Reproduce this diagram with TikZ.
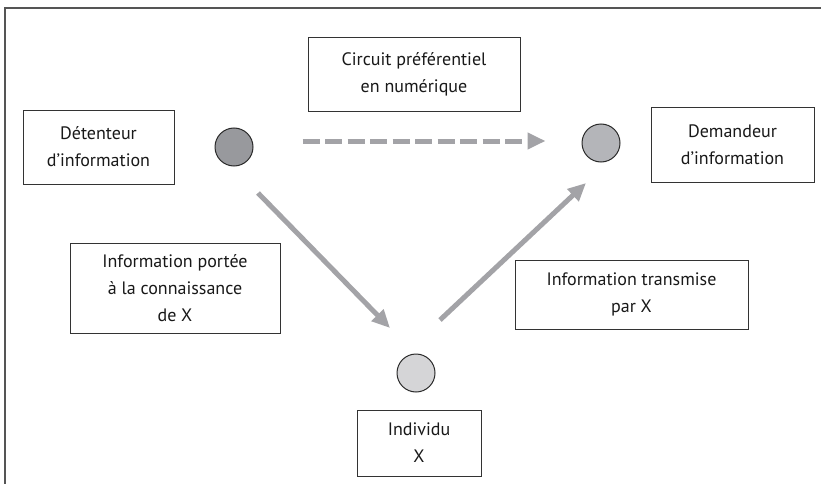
\documentclass[tikz,border=0pt]{standalone}
\usepackage{fontspec}
\setmainfont{PT Sans}
\usetikzlibrary{arrows.meta}
\definecolor{arrowgray}{HTML}{A3A3A7}
\definecolor{boxline}{HTML}{333333}
\definecolor{frameline}{HTML}{555555}
\definecolor{dotline}{HTML}{2A2A2A}
\definecolor{dotA}{HTML}{98999D}
\definecolor{dotB}{HTML}{B4B5B9}
\definecolor{dotC}{HTML}{D5D5D7}
\begin{document}
\begin{tikzpicture}[x=1pt,y=-1pt,
  box/.style={draw=boxline, line width=0.9pt, fill=white, align=center,
    font=\fontsize{18}{27}\selectfont, inner sep=0pt, text=black!90},
  dot/.style={circle, draw=dotline, line width=1pt, minimum size=38pt, inner sep=0pt},
  flow/.style={draw=arrowgray, line width=5pt, -{Triangle[length=18pt,width=16pt]}}]
\useasboundingbox (0,0) rectangle (821,484);
% frame
\coordinate (fa) at (5,484);
\coordinate (fb) at (5,8);
\coordinate (fc) at (821,8);
\draw[frameline, line width=1.2pt] (fa) -- (fb) -- (fc);
% boxes
\node[box, minimum width=151pt, minimum height=74pt] (det) at (98.5,147) {Détenteur\\d’information};
\node[box, minimum width=212pt, minimum height=74pt] (circ) at (414,74) {Circuit préférentiel\\en numérique};
\node[box, minimum width=163pt, minimum height=75pt] (dem) at (732.5,144.5) {Demandeur\\d’information};
\node[box, minimum width=210pt, minimum height=90pt] (port) at (175,288) {Information portée\\à la connaissance\\de X};
\node[box, minimum width=233pt, minimum height=69pt] (trans) at (631.5,294.5) {Information transmise\\par X};
\node[box, minimum width=124pt, minimum height=66pt] (ind) at (419,443) {Individu\\X};
% circles
\node[dot, fill=dotA] (c1) at (234,147) {};
\node[dot, fill=dotB] (c2) at (601,143) {};
\node[dot, fill=dotC] (c3) at (416,373) {};
% arrow ends
\coordinate (a1s) at ([shift={(24pt,-46pt)}]c1.center);
\coordinate (a1e) at ([shift={(-26pt,45pt)}]c3.center);
\coordinate (a2s) at ([shift={(24pt,53pt)}]c3.center);
\coordinate (a2e) at ([shift={(-15pt,-40pt)}]c2.center);
% connectors
\draw[flow, dash pattern=on 17pt off 5.5pt, shorten <=49pt, shorten >=36pt]
  ([yshift=6pt]c1.east) -- ([yshift=2pt]c2.west);
\draw[flow] (a1s) -- (a1e);
\draw[flow] (a2s) -- (a2e);
\end{tikzpicture}
\end{document}
